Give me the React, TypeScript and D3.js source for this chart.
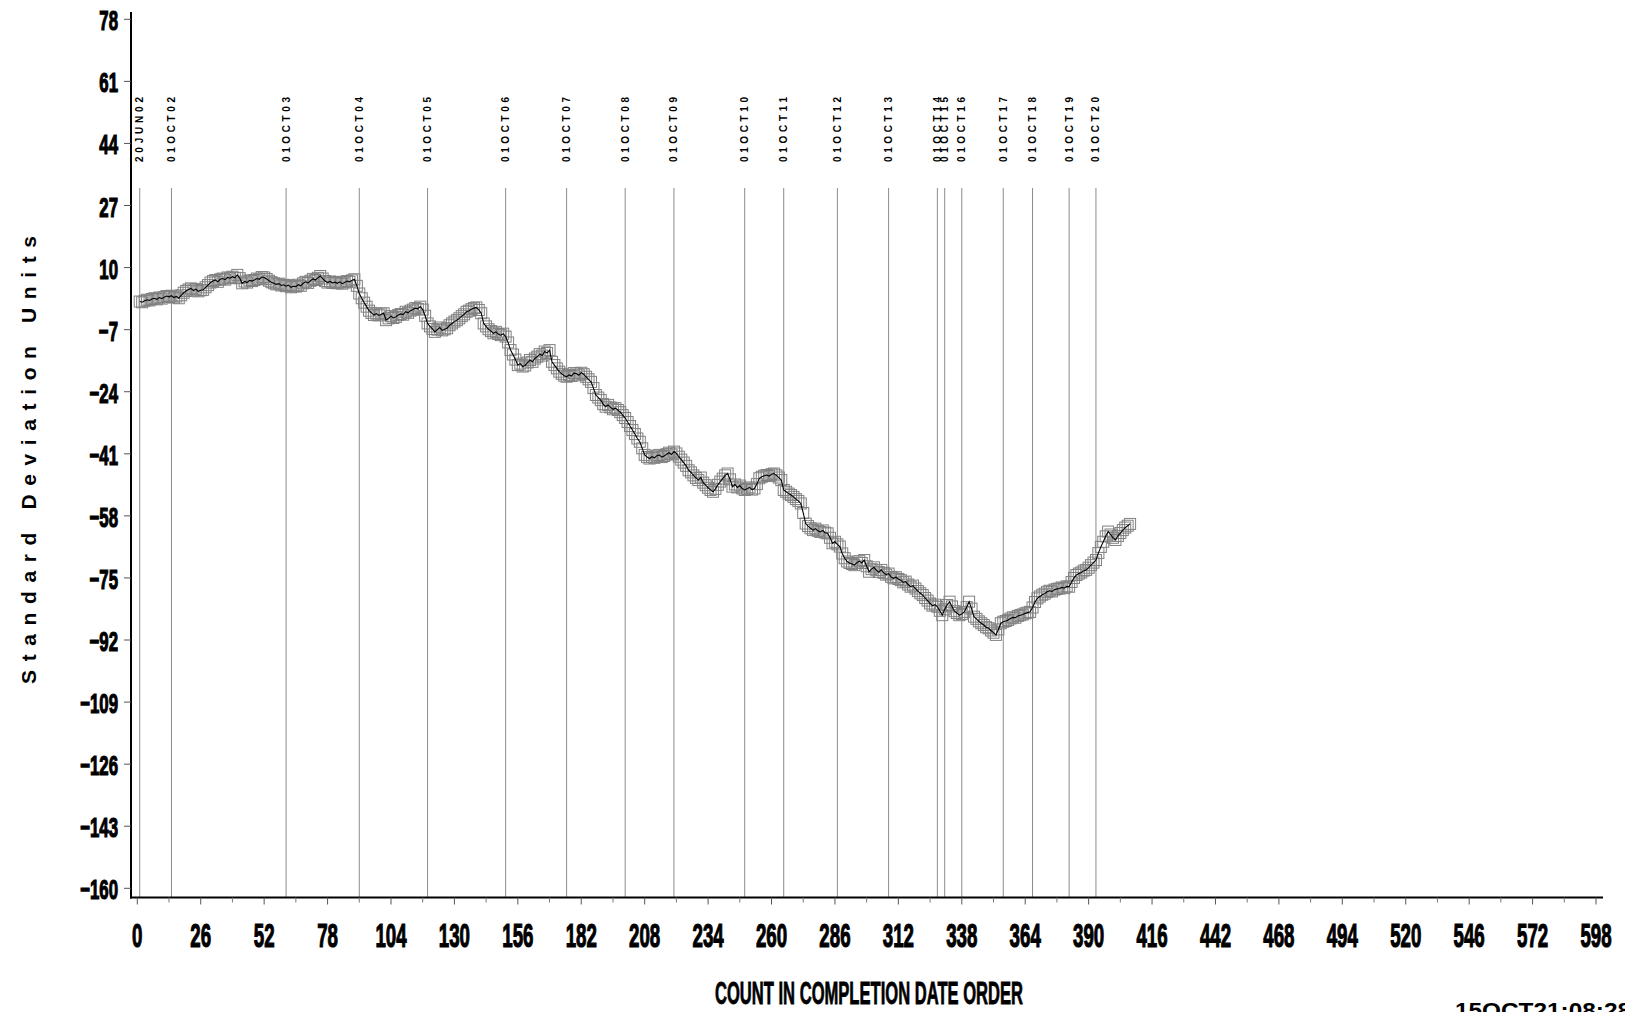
import React from 'react';
import * as d3 from 'd3';

const W = 1625;
const H = 1012;

// cusum values, one per job in completion order (count 1..407)
const cusumValues = [
  0.7, 0.5, 0.9, 1.2, 1.0, 1.4, 1.6, 1.3, 1.8, 1.5,
  1.9, 2.2, 2.0, 2.3, 1.8, 2.1, 1.6, 2.4, 3.1, 3.6,
  4.0, 4.3, 3.7, 4.1, 3.5, 3.8, 3.9, 4.6, 5.2, 5.9,
  6.3, 6.6, 6.1, 6.8, 7.0, 6.7, 7.3, 7.1, 7.5, 7.2,
  8.0, 7.1, 5.7, 6.2, 5.9, 6.5, 6.3, 6.6, 7.0, 6.8,
  7.4, 7.3, 6.9, 6.4, 6.0, 5.7, 5.4, 5.6, 5.1, 5.3,
  4.9, 5.2, 4.6, 4.9, 4.8, 5.3, 5.0, 5.7, 6.1, 5.8,
  6.4, 6.9, 6.6, 7.2, 7.7, 7.0, 6.3, 5.9, 6.2, 5.8,
  6.0, 5.7, 6.1, 5.6, 5.9, 6.3, 6.1, 6.5, 6.8, 5.0,
  2.9, 1.6, 0.4, -0.7, -1.8, -2.4, -3.0, -2.6, -3.1, -2.8,
  -2.5, -4.4, -3.9, -3.3, -3.8, -3.5, -3.0, -2.7, -2.9, -2.1,
  -2.4, -1.8, -1.5, -1.1, -1.3, -0.7, -1.5, -3.2, -5.3, -6.1,
  -6.8, -7.6, -7.0, -6.4, -7.2, -6.9, -6.6, -5.8, -5.3, -4.8,
  -4.4, -3.9, -3.3, -2.8, -2.1, -1.8, -1.4, -1.1, -0.9, -1.6,
  -2.5, -5.3, -6.1, -6.9, -7.4, -8.0, -7.6, -8.2, -8.5, -8.1,
  -8.9, -10.5, -12.6, -13.8, -15.2, -16.7, -16.3, -17.1, -16.8, -16.0,
  -15.3, -15.8, -14.9, -14.4, -13.7, -14.1, -13.0, -13.4, -12.6, -15.8,
  -16.7, -17.6, -18.5, -19.1, -19.6, -19.9, -19.4, -19.7, -18.9, -19.0,
  -19.5, -18.8, -19.2, -19.9, -20.6, -21.3, -23.0, -24.9, -25.6, -26.3,
  -27.4, -28.1, -27.6, -28.3, -28.8, -28.5, -29.0, -29.6, -30.4, -31.2,
  -32.3, -33.4, -34.5, -35.6, -36.8, -37.7, -39.5, -41.3, -41.9, -42.3,
  -41.8, -42.1, -41.5, -41.3, -41.9, -41.6, -41.1, -40.7, -41.2, -40.4,
  -40.9, -41.8, -42.6, -43.4, -44.3, -45.5, -46.1, -46.9, -47.6, -48.2,
  -47.5, -48.9, -49.6, -50.3, -50.9, -51.4, -50.6, -49.5, -48.6, -47.8,
  -46.9, -46.4, -48.0, -50.0, -49.4, -50.2, -49.7, -50.5, -50.9, -50.6,
  -50.2, -50.8, -50.5, -49.3, -47.7, -47.3, -47.0, -46.8, -47.1, -46.6,
  -46.4, -46.9, -47.5, -48.2, -50.9, -51.4, -51.9, -52.3, -52.8, -53.4,
  -53.9, -54.6, -57.2, -60.1, -60.8, -61.4, -61.9, -61.5, -62.1, -62.4,
  -62.0, -62.6, -62.8, -64.0, -65.5, -65.1, -65.8, -66.4, -68.3, -69.6,
  -70.5, -70.9, -71.2, -71.5, -70.8, -70.4, -70.9, -70.1, -71.8, -73.3,
  -72.6, -72.1, -72.9, -73.4, -72.8, -73.6, -74.1, -73.8, -74.7, -75.1,
  -74.8, -75.3, -75.6, -76.2, -76.0, -76.8, -77.4, -77.1, -77.9, -78.6,
  -79.2, -79.7, -80.5, -81.2, -82.0, -82.6, -82.3, -82.9, -84.0, -85.2,
  -83.6, -82.4, -81.5, -82.8, -84.1, -84.6, -85.2, -84.9, -84.3, -83.0,
  -81.5, -83.4, -85.6, -86.2, -86.9, -87.4, -87.9, -88.5, -88.8, -89.4,
  -90.0, -90.6, -89.1, -87.4, -87.0, -86.8, -86.5, -86.1, -85.8, -85.9,
  -85.4, -85.2, -85.0, -84.7, -84.5, -84.3, -83.1, -81.6, -80.6, -80.1,
  -79.6, -79.3, -78.8, -78.5, -78.7, -78.2, -78.0, -77.9, -77.6, -77.8,
  -77.3, -77.4, -76.1, -75.0, -74.2, -73.8, -73.5, -73.0, -72.8, -72.2,
  -71.5, -70.8, -70.1, -68.2, -66.5, -65.1, -63.6, -62.3, -63.1, -64.0,
  -64.6, -63.5, -62.7, -61.9, -61.2, -60.7, -60.2,
];

// reference lines (count where each period starts)
const refCounts = [1, 14, 61, 91, 119, 151, 176, 200, 220, 249, 265, 287, 308, 328, 331, 338, 355, 367, 382, 393];
const refLabels = [
  '20JUN02', '01OCT02', '01OCT03', '01OCT04', '01OCT05', '01OCT06', '01OCT07',
  '01OCT08', '01OCT09', '01OCT10', '01OCT11', '01OCT12', '01OCT13', '01OCT14',
  '01OCT15', '01OCT16', '01OCT17', '01OCT18', '01OCT19', '01OCT20',
];

const yTicks = [78, 61, 44, 27, 10, -7, -24, -41, -58, -75, -92, -109, -126, -143, -160];
const xTicks = [0, 26, 52, 78, 104, 130, 156, 182, 208, 234, 260, 286, 312, 338, 364, 390,
  416, 442, 468, 494, 520, 546, 572, 598];
const xMinorTicks = [13, 39, 65, 91, 117, 143, 169, 195, 221, 247, 273, 299, 325, 351, 377,
  403, 429, 455, 481, 507, 533, 559, 585];

const FONT = "'Liberation Sans', Arial, sans-serif";

const App = () => {
  const x = d3.scaleLinear().domain([0, 598]).range([137.3, 1596]);
  const y = d3.scaleLinear().domain([-160, 78]).range([888.3, 19.3]);

  const axisX = 131;
  const axisY = 897.5;

  const points = cusumValues.map((v, i) => ({ n: i + 1, v }));
  const line = d3.line<{ n: number; v: number }>()
    .x(d => x(d.n))
    .y(d => y(d.v));

  const fmt = (t: number) => (t < 0 ? '\u2212' + Math.abs(t) : String(t));

  return (
    <svg width={W} height={H} style={{ position: 'absolute', left: 0, top: 0, background: '#fff' }}>
      {/* reference lines and date labels */}
      {refCounts.map((c, i) => (
        <g key={'ref' + i}>
          <line x1={x(c)} x2={x(c)} y1={188} y2={axisY} stroke="#8c8c8c" strokeWidth={1} />
          <text
            transform={`translate(${x(c) + 3.5},162) rotate(-90)`}
            fontFamily={FONT}
            fontSize={10}
            fontWeight="bold"
            textLength={65}
            lengthAdjust="spacing"
            fill="#000"
          >
            {refLabels[i]}
          </text>
        </g>
      ))}

      {/* markers */}
      <g fill="none" stroke="#808080" strokeWidth={1}>
        {points.map(d => (
          <rect key={'m' + d.n} x={x(d.n) - 5.5} y={y(d.v) - 5.5} width={11} height={11} />
        ))}
      </g>

      {/* cusum line */}
      <path d={line(points) || ''} fill="none" stroke="#000" strokeWidth={1.1} />

      {/* y axis */}
      <line x1={axisX} x2={axisX} y1={12} y2={axisY + 1} stroke="#000" strokeWidth={2} />
      {yTicks.map(t => (
        <g key={'yt' + t}>
          <line x1={124} x2={axisX} y1={y(t)} y2={y(t)} stroke="#555" strokeWidth={1} />
          <text
            transform={`translate(118,${y(t) + 11}) scale(0.6,1)`}
            textAnchor="end"
            fontFamily={FONT}
            fontSize={28}
            fontWeight="bold"
            stroke="#000"
            strokeWidth={1.2}
          >
            {fmt(t)}
          </text>
        </g>
      ))}

      {/* x axis */}
      <line x1={axisX - 1} x2={1603} y1={axisY} y2={axisY} stroke="#000" strokeWidth={2} />
      {xTicks.map(t => (
        <g key={'xt' + t}>
          <line x1={x(t)} x2={x(t)} y1={axisY} y2={axisY + 7} stroke="#555" strokeWidth={1} />
          <text
            transform={`translate(${x(t)},947) scale(0.55,1)`}
            textAnchor="middle"
            fontFamily={FONT}
            fontSize={34}
            fontWeight="bold"
            stroke="#000"
            strokeWidth={1.2}
          >
            {t}
          </text>
        </g>
      ))}
      {xMinorTicks.map(t => (
        <line key={'xm' + t} x1={x(t)} x2={x(t)} y1={axisY} y2={axisY + 5} stroke="#777" strokeWidth={1} />
      ))}

      {/* axis titles */}
      <text
        x={869}
        y={1004}
        textAnchor="middle"
        fontFamily={FONT}
        fontSize={31}
        fontWeight="bold"
        stroke="#000"
        strokeWidth={0.8}
        textLength={308}
        lengthAdjust="spacingAndGlyphs"
      >
        COUNT IN COMPLETION DATE ORDER
      </text>
      <text
        transform="translate(36,460) rotate(-90)"
        textAnchor="middle"
        fontFamily={FONT}
        fontSize={21}
        fontWeight="bold"
        textLength={448}
        lengthAdjust="spacing"
        style={{ whiteSpace: 'pre' }}
      >
        {'S t a n d a r d   D e v i a t i o n   U n i t s'}
      </text>

      {/* run stamp */}
      <text
        x={1455}
        y={1018}
        fontFamily={FONT}
        fontSize={22}
        fontWeight="bold"
        textLength={176}
        lengthAdjust="spacingAndGlyphs"
      >
        15OCT21:08:28
      </text>
    </svg>
  );
};

export default App;
